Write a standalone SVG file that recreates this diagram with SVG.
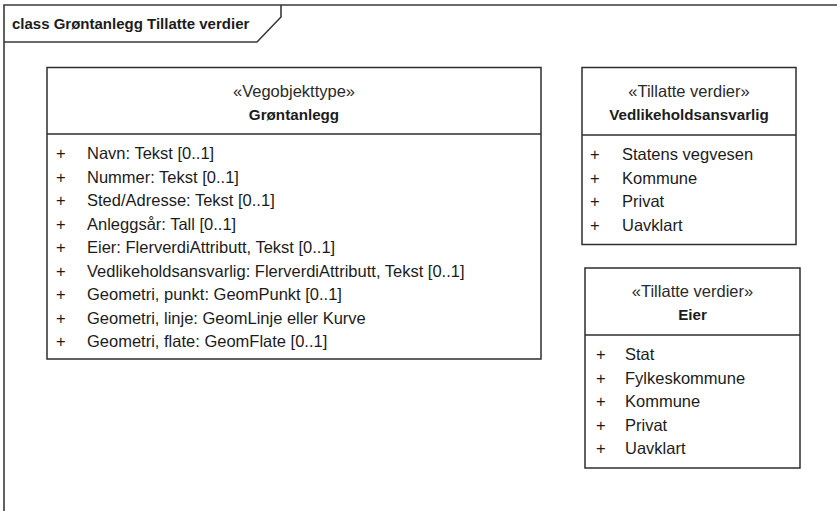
<svg xmlns="http://www.w3.org/2000/svg" width="837" height="511" viewBox="0 0 837 511">
<style>
.frame{fill:none;stroke:#3a3a3a;stroke-width:1.6}
.box{fill:#ffffff;stroke:#2e2e2e;stroke-width:1.5}
.sep{stroke:#2e2e2e;stroke-width:1.5}
text{font-family:"Liberation Sans",Arial,sans-serif;font-size:16.5px;fill:#1c1c1c}
.title{font-weight:bold;font-size:15px}
.st{text-anchor:middle;fill:#2a2a2a}
.nm{text-anchor:middle;font-weight:bold;font-size:15.2px}
</style>
<rect width="837" height="511" fill="#ffffff"/>
<g id="frame">
<path class="frame" d="M4,511 V5 H837"/>
<path class="frame" d="M4,42 H257 L281,17 V5"/>
<text class="title" x="12" y="29">class Grøntanlegg Tillatte verdier</text>
</g>
<g id="connectors"></g>
<g id="node-grontanlegg">
<rect class="box" x="47" y="67.5" width="494" height="291.5"/>
<line class="sep" x1="47" y1="134" x2="541" y2="134"/>
<text class="st" x="294" y="97">«Vegobjekttype»</text>
<text class="nm" x="294" y="119.5">Grøntanlegg</text>
<text x="56" y="159">+</text><text x="87" y="159">Navn: Tekst [0..1]</text>
<text x="56" y="182.5">+</text><text x="87" y="182.5">Nummer: Tekst [0..1]</text>
<text x="56" y="206">+</text><text x="87" y="206">Sted/Adresse: Tekst [0..1]</text>
<text x="56" y="229.5">+</text><text x="87" y="229.5">Anleggsår: Tall [0..1]</text>
<text x="56" y="253">+</text><text x="87" y="253">Eier: FlerverdiAttributt, Tekst [0..1]</text>
<text x="56" y="276.5">+</text><text x="87" y="276.5">Vedlikeholdsansvarlig: FlerverdiAttributt, Tekst [0..1]</text>
<text x="56" y="300">+</text><text x="87" y="300">Geometri, punkt: GeomPunkt [0..1]</text>
<text x="56" y="323.5">+</text><text x="87" y="323.5">Geometri, linje: GeomLinje eller Kurve</text>
<text x="56" y="347">+</text><text x="87" y="347">Geometri, flate: GeomFlate [0..1]</text>
</g>
<g id="node-vedlikeholdsansvarlig">
<rect class="box" x="582" y="67.5" width="214" height="177"/>
<line class="sep" x1="582" y1="135" x2="796" y2="135"/>
<text class="st" x="689" y="97">«Tillatte verdier»</text>
<text class="nm" x="689" y="120">Vedlikeholdsansvarlig</text>
<text x="590" y="160">+</text><text x="622" y="160">Statens vegvesen</text>
<text x="590" y="183.5">+</text><text x="622" y="183.5">Kommune</text>
<text x="590" y="207">+</text><text x="622" y="207">Privat</text>
<text x="590" y="230.5">+</text><text x="622" y="230.5">Uavklart</text>
</g>
<g id="node-eier">
<rect class="box" x="585" y="268" width="215" height="200"/>
<line class="sep" x1="585" y1="335" x2="800" y2="335"/>
<text class="st" x="692.5" y="297">«Tillatte verdier»</text>
<text class="nm" x="692.5" y="320">Eier</text>
<text x="596" y="360">+</text><text x="625" y="360">Stat</text>
<text x="596" y="383.5">+</text><text x="625" y="383.5">Fylkeskommune</text>
<text x="596" y="407">+</text><text x="625" y="407">Kommune</text>
<text x="596" y="430.5">+</text><text x="625" y="430.5">Privat</text>
<text x="596" y="454">+</text><text x="625" y="454">Uavklart</text>
</g>
</svg>
